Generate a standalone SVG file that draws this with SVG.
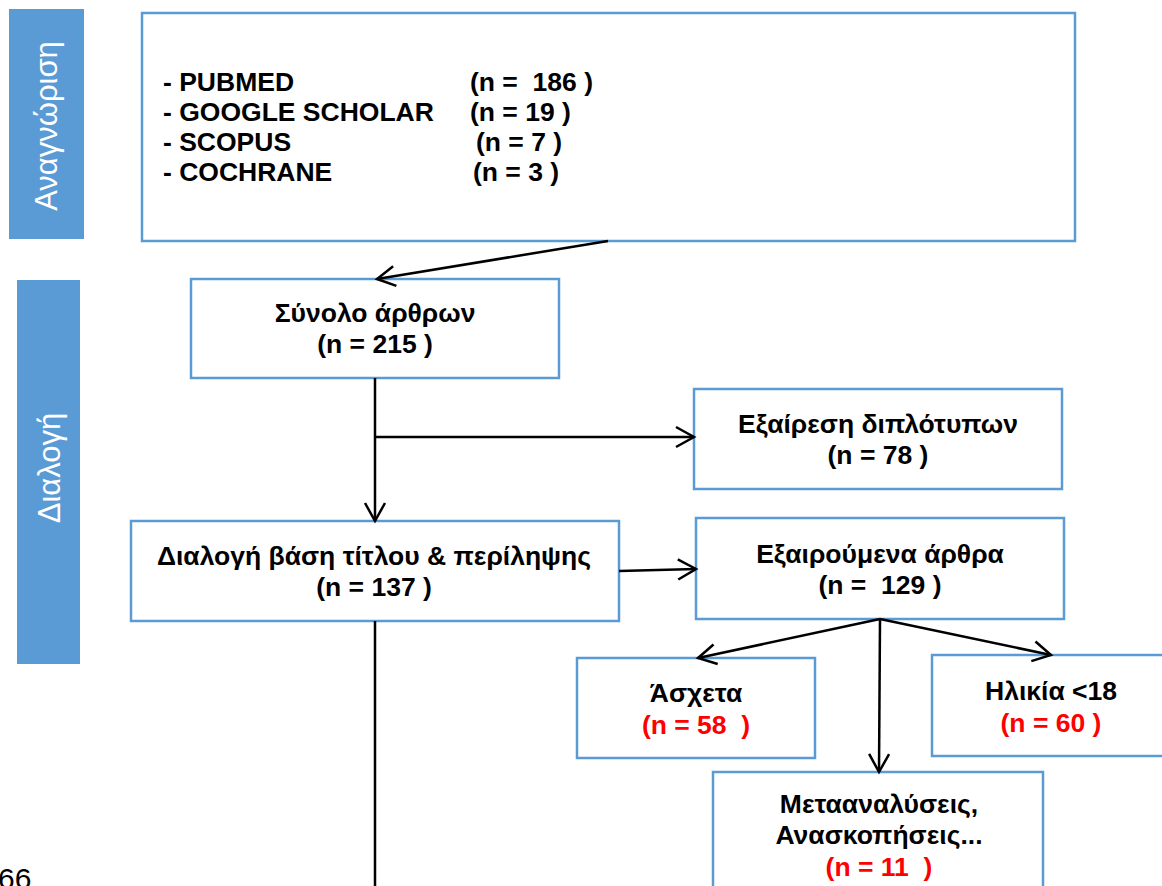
<svg xmlns="http://www.w3.org/2000/svg" width="1162" height="886" viewBox="0 0 1162 886">
<style>
.side{fill:#5b9bd5}
.sidetxt{fill:#fff;font-family:"Liberation Sans",Arial,sans-serif;font-size:31px;text-anchor:middle}
.box{fill:#fff;stroke:#5b9bd5;stroke-width:2.5}
.t{font-family:"Liberation Sans",Arial,sans-serif;font-weight:bold;font-size:26.5px;text-anchor:middle;fill:#000;white-space:pre}
.top{font-family:"Liberation Sans",Arial,sans-serif;font-weight:bold;font-size:26.5px;fill:#000;white-space:pre}
.red{fill:#ff0000}
.c{stroke:#000;stroke-width:2.5;fill:none}
.a{marker-end:url(#arr)}
</style>
<defs>
<marker id="arr" markerUnits="userSpaceOnUse" markerWidth="22" markerHeight="24" viewBox="0 0 22 24" refX="20" refY="12" orient="auto" overflow="visible">
<path d="M2,2 L20,12 L2,22" fill="none" stroke="#000" stroke-width="2.5"/>
</marker>
</defs>
<rect width="1162" height="886" fill="#fff"/>
<g id="side-identification">
<rect class="side" x="9" y="9" width="75" height="230"/>
<text class="sidetxt" transform="translate(57,126) rotate(-90)">Αναγνώριση</text>
</g>
<g id="side-screening">
<rect class="side" x="17" y="280" width="63" height="384"/>
<text class="sidetxt" transform="translate(60,468) rotate(-90)">Διαλογή</text>
</g>
<g id="sources">
<rect class="box" x="142" y="13" width="933" height="228"/>
<text class="top" x="163" y="91">- PUBMED</text>
<text class="top" x="163" y="121">- GOOGLE SCHOLAR</text>
<text class="top" x="163" y="151">- SCOPUS</text>
<text class="top" x="163" y="181">- COCHRANE</text>
<text class="top" x="470" y="91">(n =  186 )</text>
<text class="top" x="470" y="121">(n = 19 )</text>
<text class="top" x="476" y="151">(n = 7 )</text>
<text class="top" x="473" y="181">(n = 3 )</text>
</g>
<g id="total">
<rect class="box" x="191" y="279" width="368" height="99"/>
<text class="t" x="375" y="322">Σύνολο άρθρων</text>
<text class="t" x="375" y="353">(n = 215 )</text>
</g>
<g id="duplicates">
<rect class="box" x="694" y="389" width="368" height="100"/>
<text class="t" x="878" y="433">Εξαίρεση διπλότυπων</text>
<text class="t" x="878" y="464">(n = 78 )</text>
</g>
<g id="screening">
<rect class="box" x="131" y="521" width="488" height="100"/>
<text class="t" x="374" y="565">Διαλογή βάση τίτλου &amp; περίληψης</text>
<text class="t" x="374" y="596">(n = 137 )</text>
</g>
<g id="excluded">
<rect class="box" x="696" y="518" width="368" height="101"/>
<text class="t" x="880" y="563">Εξαιρούμενα άρθρα</text>
<text class="t" x="880" y="594">(n =  129 )</text>
</g>
<g id="irrelevant">
<rect class="box" x="577" y="658" width="238" height="100"/>
<text class="t" x="696" y="702">Άσχετα</text>
<text class="t red" x="696" y="734">(n = 58  )</text>
</g>
<g id="age">
<rect class="box" x="932" y="655" width="238" height="101"/>
<text class="t" x="1051" y="700">Ηλικία &lt;18</text>
<text class="t red" x="1051" y="732">(n = 60 )</text>
</g>
<g id="reviews">
<rect class="box" x="713" y="772" width="330" height="130"/>
<text class="t" x="879" y="813">Μετααναλύσεις,</text>
<text class="t" x="879" y="844">Ανασκοπήσεις...</text>
<text class="t red" x="879" y="876">(n = 11  )</text>
</g>
<g id="connectors">
<line class="c a" x1="608" y1="241" x2="377" y2="279"/>
<line class="c a" x1="375" y1="378" x2="375" y2="521"/>
<line class="c a" x1="375" y1="437" x2="694" y2="437"/>
<line class="c a" x1="619" y1="571" x2="696" y2="569"/>
<line class="c a" x1="880" y1="619" x2="698" y2="658"/>
<line class="c a" x1="880" y1="619" x2="1051" y2="655"/>
<line class="c a" x1="880" y1="619" x2="879" y2="772"/>
<line class="c" x1="375" y1="621" x2="375" y2="890"/>
</g>
<text x="-2" y="889" font-family="Liberation Sans,Arial,sans-serif" font-size="30" fill="#000">66</text>
</svg>
